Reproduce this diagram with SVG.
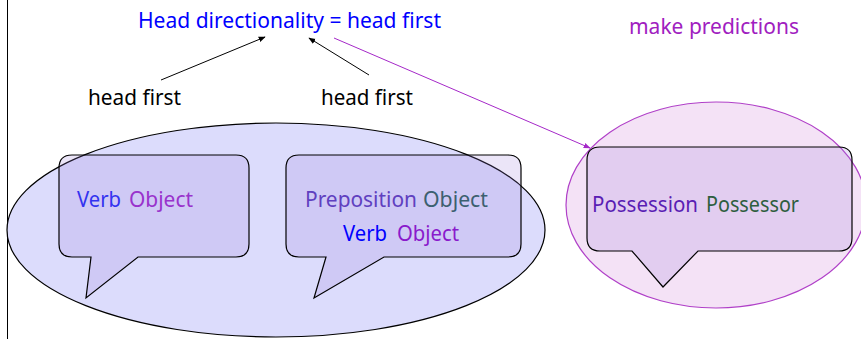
<svg xmlns="http://www.w3.org/2000/svg" width="861" height="339" viewBox="0 0 861 339">
<style>
text{font-family:"Noto Sans","Open Sans",sans-serif;font-size:21px}
.callout{fill:rgb(155,125,220);fill-opacity:0.2;stroke:#000;stroke-width:1.2}
</style>
<defs>
<marker id="ah" viewBox="0 0 10 10" refX="9" refY="5" markerWidth="7" markerHeight="7" orient="auto" markerUnits="userSpaceOnUse"><path d="M0,1 L10,5 L0,9 Z" fill="#000"/></marker>
<marker id="ahp" viewBox="0 0 10 10" refX="9" refY="5" markerWidth="7" markerHeight="7" orient="auto" markerUnits="userSpaceOnUse"><path d="M0,1 L10,5 L0,9 Z" fill="#A528C8"/></marker>
</defs>
<rect width="861" height="339" fill="#fff"/>
<line x1="7.5" y1="0" x2="7.5" y2="339" stroke="#000" stroke-width="1"/>
<g id="head-first-group">
<ellipse cx="276" cy="230" rx="269" ry="107" fill="#DCDCFC" stroke="#000" stroke-width="1.2"/>
</g>
<g id="callout-verb-object">
<path class="callout" d="M72,155 H236 Q249,155 249,168 V244 Q249,257 236,257 H138 L86,298 L91,257 H72 Q59,257 59,244 V168 Q59,155 72,155 Z"/>
<text x="77" y="207" fill="#3333F0" textLength="44" lengthAdjust="spacingAndGlyphs">Verb</text>
<text x="129" y="207" fill="#9933CC" textLength="64" lengthAdjust="spacingAndGlyphs">Object</text>
</g>
<g id="callout-preposition-object">
<path class="callout" d="M299,155 H508 Q521,155 521,168 V244 Q521,257 508,257 H384 L314,298 L326,257 H299 Q286,257 286,244 V168 Q286,155 299,155 Z"/>
<text x="305" y="207" fill="#6040C0" textLength="112" lengthAdjust="spacingAndGlyphs">Preposition</text>
<text x="423" y="207" fill="#3C6070" textLength="65" lengthAdjust="spacingAndGlyphs">Object</text>
<text x="343" y="241" fill="#0000FF" textLength="44" lengthAdjust="spacingAndGlyphs">Verb</text>
<text x="397" y="241" fill="#8A1ACC" textLength="62" lengthAdjust="spacingAndGlyphs">Object</text>
</g>
<g id="prediction-group">
<ellipse cx="716" cy="205" rx="150" ry="103" fill="#F4E2F6" stroke="#B040C8" stroke-width="1.2"/>
</g>
<g id="callout-possession-possessor">
<path class="callout" d="M600,147 H839 Q852,147 852,160 V238 Q852,251 839,251 H698 L663,287 L632,251 H600 Q587,251 587,238 V160 Q587,147 600,147 Z"/>
<text x="592" y="212" fill="#5A1EB4" textLength="106" lengthAdjust="spacingAndGlyphs">Possession</text>
<text x="706" y="212" fill="#2E5E3E" textLength="93" lengthAdjust="spacingAndGlyphs">Possessor</text>
</g>
<g id="title">
<text x="138" y="28" fill="#0000FF" textLength="303" lengthAdjust="spacingAndGlyphs">Head directionality = head first</text>
</g>
<g id="label-head-first-left">
<text x="88" y="105" fill="#000" textLength="93" lengthAdjust="spacingAndGlyphs">head first</text>
</g>
<g id="label-head-first-right">
<text x="321" y="105" fill="#000" textLength="92" lengthAdjust="spacingAndGlyphs">head first</text>
</g>
<g id="label-make-predictions">
<text x="629" y="34" fill="#A020C0" textLength="170" lengthAdjust="spacingAndGlyphs">make predictions</text>
</g>
<g id="connectors">
<line x1="161" y1="80" x2="265" y2="37" stroke="#000" stroke-width="1" marker-end="url(#ah)"/>
<line x1="369" y1="75" x2="309" y2="38" stroke="#000" stroke-width="1" marker-end="url(#ah)"/>
<line x1="334" y1="38" x2="590" y2="148" stroke="#A528C8" stroke-width="1" marker-end="url(#ahp)"/>
</g>
</svg>
